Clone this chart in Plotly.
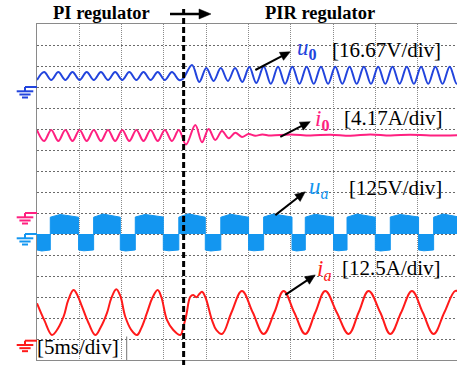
import math
import plotly.graph_objects as go

# ---------------- data: time in ms (5 ms/div), amplitude in screen divisions ----------------
t_switch = 17.32

u0_t = [0.00, 0.84, 1.68, 2.52, 3.35, 4.19, 5.03, 5.87, 6.71, 7.55, 8.39, 9.23, 10.07, 10.90,
        11.74, 12.58, 13.42, 14.26, 15.10, 15.94, 16.78,
        17.22, 18.31, 19.17, 20.00, 20.86, 21.71, 22.55, 23.40, 24.25, 25.08, 25.90, 26.78,
        27.62, 28.47, 29.31, 30.16, 31.00, 31.85, 32.69, 33.54, 34.38, 35.23, 36.07, 36.92,
        37.76, 38.61, 39.45, 40.30, 41.14, 41.99, 42.83, 43.68, 44.52, 45.37, 46.21, 47.06,
        47.90, 48.75, 49.59, 50.44]
u0_v = [13.33, 13.71, 13.33, 13.71, 13.33, 13.71, 13.33, 13.71, 13.33, 13.71, 13.33, 13.71,
        13.33, 13.71, 13.33, 13.71, 13.33, 13.71, 13.33, 13.71, 13.33,
        13.38, 14.05, 13.24, 13.90, 13.29, 13.90, 13.29, 13.90, 13.24, 13.95, 13.19, 13.98,
        13.15, 13.97, 13.15, 13.97, 13.15, 13.97, 13.15, 13.97, 13.15, 13.97, 13.15, 13.97,
        13.15, 13.97, 13.15, 13.97, 13.15, 13.97, 13.15, 13.97, 13.15, 13.97, 13.15, 13.97,
        13.15, 13.97, 13.15, 13.97]

i0_t = [0.00, 0.84, 1.68, 2.52, 3.35, 4.19, 5.03, 5.87, 6.71, 7.55, 8.39, 9.23, 10.07, 10.90,
        11.74, 12.58, 13.42, 14.26, 15.10, 15.94,
        16.75, 17.60, 18.70, 19.49, 20.27, 21.06, 21.85, 22.63, 23.42, 24.21, 24.99, 25.78,
        26.61, 27.56, 29.92, 32.28, 34.64, 37.01, 39.37, 41.73, 44.10, 46.46, 50.00]
i0_v = [10.95, 10.43, 10.95, 10.43, 10.95, 10.43, 10.95, 10.43, 10.95, 10.43, 10.95, 10.43,
        10.95, 10.43, 10.95, 10.43, 10.95, 10.43, 10.95, 10.43,
        10.95, 10.26, 11.19, 10.37, 11.00, 10.48, 10.90, 10.56, 10.82, 10.62, 10.76, 10.68,
        10.74, 10.69, 10.74, 10.69, 10.73, 10.68, 10.74, 10.69, 10.73, 10.69, 10.71]

ua_zero = 6.0
ua_edges = [0.00, 1.57, 4.91, 6.69, 9.84, 11.61, 14.92, 16.75, 19.88, 21.71, 24.99, 26.77,
            30.12, 31.69, 35.03, 36.62, 39.96, 41.73, 45.07, 46.85, 50.00]
ua_level = [5.24, 6.80, 5.24, 6.80, 5.24, 6.81, 5.24, 6.80, 5.24, 6.80,
            5.24, 6.81, 5.24, 6.80, 5.24, 6.80, 5.24, 6.81, 5.24, 6.80]
ua_hump = [5.19, 6.93, 5.20, 6.95, 5.19, 6.93, 5.20, 6.96, 5.19, 6.94,
           5.20, 6.95, 5.19, 6.94, 5.20, 6.95, 5.19, 6.93, 5.20, 6.95]

ia_t = [0.00, 0.86, 1.77, 2.28, 3.14, 3.70, 4.32, 4.76, 5.32, 6.10, 6.89, 7.48, 8.27, 8.78,
        9.37, 9.84, 10.43, 11.14, 11.81, 12.32, 12.99, 13.62, 14.25, 14.68, 15.36, 16.10,
        16.93, 17.28, 17.64, 18.11, 18.46, 18.82, 19.17, 19.49, 19.88, 20.67, 21.18, 21.85,
        22.97, 24.21, 25.49, 26.77, 28.03, 29.13, 30.39, 31.69, 32.87, 34.05, 35.41, 36.81,
        37.99, 39.17, 40.55, 41.73, 43.01, 44.29, 45.57, 46.85, 48.11, 49.41, 50.00]
ia_v = [2.70, 1.90, 1.19, 1.38, 2.06, 2.86, 3.33, 3.10, 2.54, 1.75, 1.19, 1.52, 2.24, 2.95,
        3.37, 3.05, 2.06, 1.43, 1.19, 1.52, 2.24, 2.95, 3.33, 3.00, 1.90, 1.43,
        1.19, 1.57, 2.14, 3.01, 3.10, 2.99, 3.14, 3.25, 3.00, 1.90, 1.43, 1.24,
        2.26, 3.29, 2.26, 1.24, 2.26, 3.29, 2.26, 1.24, 2.26, 3.29, 2.26, 1.24,
        2.26, 3.29, 2.26, 1.24, 2.26, 3.29, 2.26, 1.24, 2.26, 3.29, 3.20]

ground_levels = [13.0, 7.0, 6.0, 0.92]
scale_labels = ["[16.67V/div]", "[4.17A/div]", "[125V/div]", "[12.5A/div]"]
symbol_labels = ["<i>u</i><sub><b>0</b></sub>", "<i>i</i><sub><b>0</b></sub>",
                 "<i>u<sub>a</sub></i>", "<i>i<sub>a</sub></i>"]
time_label = "[5ms/div]"
header_labels = ["PI regulator", "PIR regulator"]

# ---------------- styling ----------------
C_U0 = "#2244DD"
C_I0 = "#FF2080"
C_UA = "#1396F0"
C_IA = "#FF1A1A"
SERIF = "Liberation Serif, Times New Roman, serif"

W, H = 457, 365
ML, MT, MB = 37, 24, 5
PW, PH = W - ML, H - MT - MB
PX_PER_MS = 8.466
PX_PER_DIV = PH / 16.0


def xp(px):
    return (px - ML) / PW


def yp(py):
    return (H - MB - py) / PH


def data_px(t, v):
    return ML + t * PX_PER_MS, H - MB - v * PX_PER_DIV


def add_arrow(fig, x1, y1, x2, y2, head=10.0, half=4.5, width=2.0):
    """Arrow from pixel (x1,y1) to (x2,y2) drawn as paper-referenced shapes."""
    dx, dy = x2 - x1, y2 - y1
    n = math.hypot(dx, dy)
    ux, uy = dx / n, dy / n
    bx, by = x2 - ux * head, y2 - uy * head
    fig.add_shape(type="line", xref="paper", yref="paper", x0=xp(x1), y0=yp(y1),
                  x1=xp(bx + ux * 1.0), y1=yp(by + uy * 1.0),
                  line=dict(color="black", width=width))
    px1, py1 = bx - uy * half, by + ux * half
    px2, py2 = bx + uy * half, by - ux * half
    path = "M %f,%f L %f,%f L %f,%f Z" % (xp(x2), yp(y2), xp(px1), yp(py1), xp(px2), yp(py2))
    fig.add_shape(type="path", xref="paper", yref="paper", path=path,
                  fillcolor="black", line=dict(color="black", width=0.5))


# ua filled PWM envelope polygon built from block edges / levels
ua_x, ua_y = [], []
for k in range(len(ua_level)):
    t0, t1 = ua_edges[k], ua_edges[k + 1]
    ua_x += [t0, t0, t0 + 0.35 * (t1 - t0), t1, t1]
    ua_y += [ua_zero, ua_level[k], ua_hump[k], ua_level[k], ua_zero]

fig = go.Figure()
fig.add_trace(go.Scatter(x=ua_x, y=ua_y, mode="lines", fill="toself", fillcolor=C_UA,
                         line=dict(color=C_UA, width=1), hoverinfo="skip"))
fig.add_trace(go.Scatter(x=u0_t, y=u0_v, mode="lines",
                         line=dict(color=C_U0, width=2, shape="spline", smoothing=1.0)))
fig.add_trace(go.Scatter(x=i0_t, y=i0_v, mode="lines",
                         line=dict(color=C_I0, width=2, shape="spline", smoothing=1.0)))
fig.add_trace(go.Scatter(x=ia_t, y=ia_v, mode="lines",
                         line=dict(color=C_IA, width=2, shape="spline", smoothing=1.1)))

fig.update_layout(width=W, height=H, autosize=False, showlegend=False,
                  margin=dict(l=ML, r=0, t=MT, b=MB, pad=0),
                  paper_bgcolor="white", plot_bgcolor="white")
fig.update_xaxes(range=[0, PW / PX_PER_MS], tick0=0, dtick=5, showgrid=True, gridcolor="#8a8a8a",
                 griddash="1px,1px", gridwidth=1, showticklabels=False, ticks="",
                 zeroline=False, showline=True, linecolor="#8a8a8a", linewidth=1, mirror=True)
fig.update_yaxes(range=[0, 16], tick0=0, dtick=1, showgrid=True, gridcolor="#6a6a6a",
                 griddash="2px,2px", gridwidth=1, showticklabels=False, ticks="",
                 zeroline=False, showline=True, linecolor="#8a8a8a", linewidth=1)

# switching instant: dashed vertical line
fig.add_shape(type="line", xref="x", yref="paper", x0=t_switch, x1=t_switch,
              y0=yp(366), y1=yp(8), line=dict(color="black", width=3, dash="6px,3px"))

# ground markers
for lvl, col in zip(ground_levels, [C_U0, C_I0, C_UA, C_IA]):
    py0 = H - MB - lvl * PX_PER_DIV
    segs = [((25, py0), (ML, py0)), ((25, py0), (25, py0 + 4.3)),
            ((16.7, py0 + 4.3), (33.3, py0 + 4.3)), ((19.4, py0 + 7.5), (30.6, py0 + 7.5)),
            ((22, py0 + 10.5), (28, py0 + 10.5))]
    for (xa, ya), (xb, yb) in segs:
        fig.add_shape(type="line", xref="paper", yref="paper", x0=xp(xa), x1=xp(xb),
                      y0=yp(ya), y1=yp(yb), line=dict(color=col, width=2))

# box edge next to time label
fig.add_shape(type="line", xref="paper", yref="paper", x0=xp(126.7), x1=xp(126.7),
              y0=yp(360), y1=yp(336.5), line=dict(color="#777", width=1))

# header
fig.add_annotation(xref="paper", yref="paper", x=xp(51), y=yp(13), xanchor="left",
                   yanchor="middle", showarrow=False, text="<b>%s</b>" % header_labels[0],
                   font=dict(family=SERIF, size=18.5, color="black"))
fig.add_annotation(xref="paper", yref="paper", x=xp(263), y=yp(13), xanchor="left",
                   yanchor="middle", showarrow=False, text="<b>%s</b>" % header_labels[1],
                   font=dict(family=SERIF, size=18.5, color="black"))
add_arrow(fig, 170, 14, 211, 14, head=12, half=5, width=2.5)

# channel labels
sym_pos = [(30.51, 14.80), (32.63, 11.45), (31.89, 8.19), (32.87, 4.29)]
scale_pos = [(34.64, 14.76), (36.03, 11.51), (36.62, 8.19), (35.83, 4.37)]
arrows = [((25.79, 13.81), (29.92, 14.68)), ((28.74, 10.63), (32.28, 11.35)),
          ((28.15, 6.90), (31.69, 8.01)), ((29.33, 3.10), (32.87, 4.05))]
for k, col in enumerate([C_U0, C_I0, C_UA, C_IA]):
    fig.add_annotation(xref="x", yref="y", x=sym_pos[k][0], y=sym_pos[k][1], xanchor="left",
                       yanchor="middle", showarrow=False, text=symbol_labels[k],
                       font=dict(family=SERIF, size=23, color=col))
    fig.add_annotation(xref="x", yref="y", x=scale_pos[k][0], y=scale_pos[k][1],
                       xanchor="left", yanchor="middle", showarrow=False,
                       text=scale_labels[k], font=dict(family=SERIF, size=21, color="black"))
    (tx, ty), (hx, hy) = arrows[k]
    ax1, ay1 = data_px(tx, ty)
    ax2, ay2 = data_px(hx, hy)
    add_arrow(fig, ax1, ay1, ax2, ay2, head=10, half=4.5, width=2)

fig.add_annotation(xref="paper", yref="paper", x=xp(35), y=yp(347), xanchor="left",
                   yanchor="middle", showarrow=False, text=time_label,
                   font=dict(family=SERIF, size=21, color="black"))

fig.write_html("out.html", config={"displayModeBar": False},
               post_script="document.body.style.margin='0';document.body.style.overflow='hidden';")
